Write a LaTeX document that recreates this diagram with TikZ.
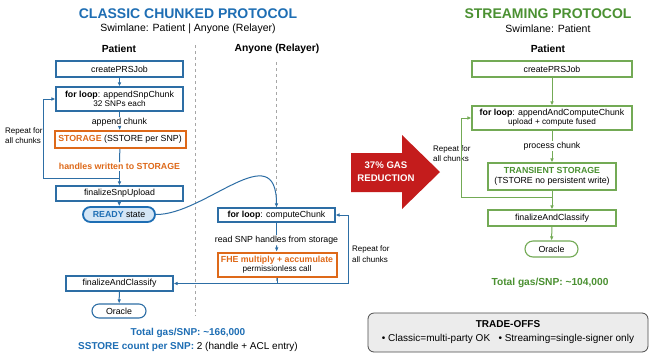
\documentclass[tikz,border=0pt]{standalone}
\usepackage{fontspec}
\setmainfont{Liberation Sans}
\usetikzlibrary{arrows.meta,positioning}
\definecolor{cblue}{RGB}{30,110,180}
\definecolor{bstroke}{RGB}{45,110,165}
\definecolor{corange}{RGB}{222,105,25}
\definecolor{cgreen}{RGB}{75,145,50}
\definecolor{gstroke}{RGB}{115,170,85}
\definecolor{cred}{RGB}{196,28,28}
\definecolor{lblue}{RGB}{212,230,246}
\newcommand{\subsz}{\fontsize{8.2}{9}\selectfont}
\begin{document}
\begin{tikzpicture}[x=1pt,y=-1pt,
  bx/.style={draw=bstroke,line width=1.1pt,fill=white,inner sep=0pt,align=center,font=\fontsize{8.8}{10}\selectfont},
  obx/.style={draw=corange,line width=2pt,fill=white,inner sep=0pt,align=center,font=\fontsize{8.8}{10}\selectfont},
  gbx/.style={draw=gstroke,line width=1.1pt,fill=white,inner sep=0pt,align=center,font=\fontsize{8.8}{10}\selectfont},
  lbl/.style={inner sep=1pt,font=\fontsize{8.8}{10}\selectfont,fill=white},
  barr/.style={draw=bstroke,line width=1pt,-{Latex[length=4pt,width=3.6pt]}},
  bln/.style={draw=bstroke,line width=1pt},
  garr/.style={draw=gstroke,line width=1pt,-{Latex[length=4pt,width=3.6pt]}},
  gln/.style={draw=gstroke,line width=1pt},
  lane/.style={draw=gray!70,line width=0.8pt,dash pattern=on 3pt off 3pt},
  rep/.style={anchor=west,align=left,inner sep=0pt,font=\fontsize{8}{10.5}\selectfont}]
\useasboundingbox[fill=white] (0,0) rectangle (649,360);

% titles
\node[font=\bfseries\fontsize{14}{16}\selectfont,text=cblue] (t1) at (188,14) {CLASSIC CHUNKED PROTOCOL};
\node[font=\fontsize{10.5}{12}\selectfont] (t2) at (188,29) {Swimlane: Patient | Anyone (Relayer)};
\node[font=\bfseries\fontsize{10.3}{11}\selectfont] (h1) at (119,49) {Patient};
\node[font=\bfseries\fontsize{10.3}{11}\selectfont] (h2) at (277,49) {Anyone (Relayer)};
\node[font=\bfseries\fontsize{14}{16}\selectfont,text=cgreen] (t3) at (548,14) {STREAMING PROTOCOL};
\node[font=\fontsize{10.5}{12}\selectfont] (t4) at (548,29) {Swimlane: Patient};
\node[font=\bfseries\fontsize{10.3}{11}\selectfont] (h3) at (548,49) {Patient};

% lanes
\coordinate (la1) at (195,45); \coordinate (la2) at (195,316);
\coordinate (lb1) at (276.5,62); \coordinate (lb2) at (276.5,283);
\draw[lane] (la1) -- (la2);
\draw[lane] (lb1) -- (lb2);

% classic nodes
\node[bx,minimum width=127pt,minimum height=16pt] (c1) at (119.5,69) {createPRSJob};
\node[bx,minimum width=127pt,minimum height=24pt] (c2) at (119.5,99) {\textbf{for loop}: appendSnpChunk\\[-1pt]{\subsz 32 SNPs each}};
\node[lbl] (a1) at (119.5,122.5) {append chunk};
\node[obx,minimum width=131pt,minimum height=17pt] (c3) at (120,139.5) {\textcolor{corange}{\textbf{STORAGE}} (SSTORE per SNP)};
\node[lbl,text=corange,font=\bfseries\fontsize{8.8}{10}\selectfont] (a2) at (119.5,166.5) {handles written to STORAGE};
\node[bx,minimum width=127pt,minimum height=15pt] (c4) at (119.5,193.5) {finalizeSnpUpload};
\node[bx,draw=cblue,line width=1.8pt,fill=lblue,rounded corners=7.5pt,minimum width=72pt,minimum height=15pt] (c5) at (119,214.5) {\textcolor{cblue}{\textbf{READY}} state};
\node[bx,minimum width=117pt,minimum height=14pt] (d1) at (276.5,215) {\textbf{for loop}: computeChunk};
\node[lbl] (a3) at (276.5,240) {read SNP handles from storage};
\node[obx,minimum width=119pt,minimum height=24pt] (d2) at (277,264.5) {\textcolor{corange}{\textbf{FHE multiply + accumulate}}\\[-1.5pt]{\subsz permissionless call}};
\node[bx,minimum width=107pt,minimum height=15pt] (c6) at (119.5,283.5) {finalizeAndClassify};
\node[bx,rounded corners=7pt,minimum width=54pt,minimum height=14pt] (c7) at (119,311) {Oracle};

\node[rep] (r1) at (5,135.5) {Repeat for\\all chunks};
\node[rep] (r2) at (352,254) {Repeat for\\all chunks};

% classic connectors
\draw[barr] (c1) -- (c2);
\draw[bln] (c2) -- (a1);
\draw[barr] (a1) -- (c3);
\draw[bln] (c3) -- (a2);
\draw[barr] (a2) -- (c4);
\coordinate (j1) at (119.5,178);
\coordinate (k1) at (43,178);
\draw[barr] (j1) -- (k1) |- (c2.west);
\draw[barr] (c4) -- (c5);
\draw[barr] (c5.east) .. controls (205,215) and (276.5,135) .. (d1.north);
\draw[bln] (d1) -- (a3);
\draw[barr] (a3) -- (d2);
\coordinate (j2) at (277,283.5);
\coordinate (k2) at (348,283.5);
\draw[barr] (d2.south) -- (j2) -- (c6.east);
\draw[barr] (j2) -- (k2) |- (d1.east);
\draw[barr] (c6) -- (c7);

% totals classic
\node[font=\bfseries\fontsize{10}{11}\selectfont,text=cblue] (g1) at (188,333) {Total gas/SNP: \textasciitilde166,000};
\node[font=\fontsize{10}{11}\selectfont] (g2) at (188,346.5) {\textcolor{cblue}{\textbf{SSTORE count per SNP:}} 2 (handle + ACL entry)};

% red arrow
\fill[cred] (351,153) -- (402,153) -- (402,135) -- (440,172) -- (402,209) -- (402,192) -- (351,192) -- cycle;
\node[text=white,font=\bfseries\fontsize{9.6}{13}\selectfont,align=center] (ra) at (386,171.5) {37\% GAS\\REDUCTION};

% streaming nodes
\node[gbx,minimum width=160pt,minimum height=16pt] (s1) at (552,69) {createPRSJob};
\node[gbx,minimum width=160pt,minimum height=24pt] (s2) at (552,118) {\textbf{for loop}: appendAndComputeChunk\\[-1pt]{\subsz upload + compute fused}};
\node[lbl] (p1) at (552,146) {process chunk};
\node[gbx,minimum width=128pt,minimum height=27pt] (s3) at (552,176.5) {\textcolor{cgreen}{\textbf{TRANSIENT STORAGE}}\\(TSTORE no persistent write)};
\node[gbx,minimum width=128pt,minimum height=16pt] (s4) at (552,218) {finalizeAndClassify};
\node[gbx,rounded corners=8pt,minimum width=53pt,minimum height=16pt] (s5) at (551.5,249) {Oracle};
\node[rep] (r3) at (433,153.5) {Repeat for\\all chunks};

\draw[garr] (s1) -- (s2);
\draw[gln] (s2) -- (p1);
\draw[garr] (p1) -- (s3);
\draw[garr] (s3) -- (s4);
\coordinate (j3) at (552,197);
\coordinate (k3) at (461,197);
\draw[garr] (j3) -- (k3) |- (s2.west);
\draw[garr] (s4) -- (s5);

\node[font=\bfseries\fontsize{10.2}{11}\selectfont,text=cgreen] (g3) at (550,283) {Total gas/SNP: \textasciitilde104,000};

% trade-offs
\node[draw=gray!60!black,fill=gray!15,rounded corners=6pt,line width=0.8pt,minimum width=280pt,minimum height=39pt,align=center,inner sep=0pt,font=\fontsize{10}{14}\selectfont] (tr) at (508,332.5) {\textbf{TRADE-OFFS}\\ \textbullet\ Classic=multi-party OK \ \ \textbullet\ Streaming=single-signer only};
\end{tikzpicture}
\end{document}
